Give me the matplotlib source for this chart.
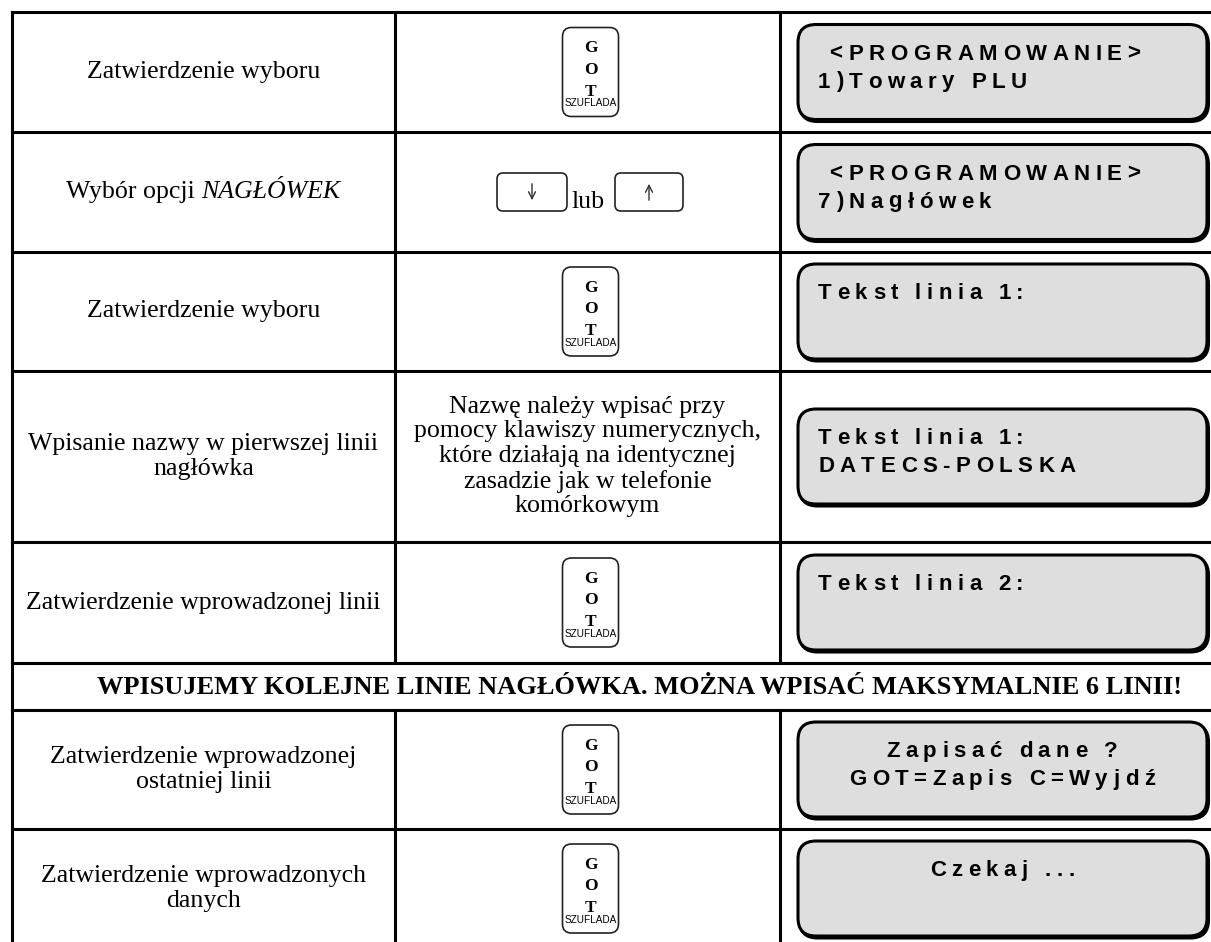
import matplotlib.pyplot as plt
from matplotlib.patches import FancyBboxPatch
from matplotlib.font_manager import FontProperties

# table content
left_texts = [
    "Zatwierdzenie wyboru",
    None,  # mixed style, drawn separately
    "Zatwierdzenie wyboru",
    "Wpisanie nazwy w pierwszej linii\nnagłówka",
    "Zatwierdzenie wprowadzonej linii",
    "Zatwierdzenie wprowadzonej\nostatniej linii",
    "Zatwierdzenie wprowadzonych\ndanych",
]
row2_plain = "Wybór opcji "
row2_italic = "NAGŁÓWEK"
key_kinds = ["got", "arrows", "got", "text", "got", "got", "got"]
middle_text = ("Nazwę należy wpisać przy\npomocy klawiszy numerycznych,\n"
               "które działają na identycznej\nzasadzie jak w telefonie\nkomórkowym")
lcd_lines = [
    [" <PROGRAMOWANIE>", "1)Towary PLU"],
    [" <PROGRAMOWANIE>", "7)Nagłówek"],
    ["Tekst linia 1:"],
    ["Tekst linia 1:", "DATECS-POLSKA"],
    ["Tekst linia 2:"],
    ["Zapisać dane ?", "GOT=Zapis C=Wyjdź"],
    ["Czekaj ..."],
]
lcd_align = ["left", "left", "left", "left", "left", "center", "center"]
banner = "WPISUJEMY KOLEJNE LINIE NAGŁÓWKA. MOŻNA WPISAĆ MAKSYMALNIE 6 LINII!"
got_letters = ["G", "O", "T"]
got_sub = "SZUFLADA"

# layout (pixels)
row_edges = [12, 132, 252, 371, 542, 663, 710, 829, 948]
banner_row = 5
col_edges = [12, 395, 780, 1240]

fig = plt.figure(figsize=(12.11, 9.42), dpi=100)
ax = fig.add_axes([0, 0, 1, 1])
ax.set_xlim(0, 1211)
ax.set_ylim(942, 0)
ax.axis('off')

serif = FontProperties(family="Liberation Serif", size=18.6)
serif_it = FontProperties(family="Liberation Serif", style="italic", size=18.6)
serif_b = FontProperties(family="Liberation Serif", weight="bold", size=19)
lcd_font = FontProperties(family="Liberation Sans", weight="bold", size=16)
key_font = FontProperties(family="Liberation Serif", weight="bold", size=12.5)
sub_font = FontProperties(family="Liberation Sans", size=7.2)

r = fig.canvas.get_renderer()
LW = 2.2

def width(s, prop):
    return r.get_text_width_height_descent(s, prop, ismath=False)[0]

def spaced(x, y, s, prop, gap, ha='left'):
    base = width("HH", prop)
    advs = [width("H" + c + "H", prop) - base for c in s]
    total = sum(advs) + gap * (len(s) - 1)
    if ha == 'center':
        x -= total / 2
    for c, a in zip(s, advs):
        ax.text(x, y, c, fontproperties=prop, ha='left', va='baseline')
        x += a + gap

# grid lines
for y in row_edges:
    ax.plot([col_edges[0], col_edges[-1]], [y, y], color='black', lw=LW, solid_capstyle='projecting')
ax.plot([col_edges[0]] * 2, [row_edges[0], row_edges[-1]], color='black', lw=LW)
for i in range(len(row_edges) - 1):
    if i == banner_row:
        continue
    for xc in col_edges[1:3]:
        ax.plot([xc, xc], [row_edges[i], row_edges[i + 1]], color='black', lw=LW)

# banner row
ax.text((col_edges[0] + 1211) / 2 + 28, (row_edges[banner_row] + row_edges[banner_row + 1]) / 2 + 1,
        banner, fontproperties=serif_b, ha='center', va='center')

step_rows = [i for i in range(len(row_edges) - 1) if i != banner_row]
c1 = (col_edges[0] + col_edges[1]) / 2
c2 = (col_edges[1] + col_edges[2]) / 2 + 3

for k, i in enumerate(step_rows):
    top, bot = row_edges[i], row_edges[i + 1]
    mid = (top + bot) / 2

    # left column
    if left_texts[k] is None:
        w1 = width(row2_plain.rstrip(), serif) + width("a a", serif) - width("aa", serif)
        w2 = width(row2_italic, serif_it)
        x0 = c1 - (w1 + w2) / 2
        ax.text(x0, mid, row2_plain, fontproperties=serif, ha='left', va='center')
        ax.text(x0 + w1, mid, row2_italic, fontproperties=serif_it, ha='left', va='center')
    else:
        ax.text(c1, mid, left_texts[k], fontproperties=serif, ha='center', va='center',
                linespacing=1.15)

    # middle column
    kind = key_kinds[k]
    if kind == "got":
        kw, kh = 56, 89
        kt = mid - kh / 2
        ax.add_patch(FancyBboxPatch((c2 - kw / 2, kt), kw, kh,
                                    boxstyle="round,pad=0,rounding_size=9",
                                    fc='white', ec='#222222', lw=1.2))
        for letter, dy in zip(got_letters, [25, 46, 68]):
            ax.text(c2, kt + dy, letter, fontproperties=key_font, ha='center', va='baseline')
        ax.text(c2, kt + 79, got_sub, fontproperties=sub_font, ha='center', va='baseline')
    elif kind == "arrows":
        kh = 38
        for (xl, xr), direction in zip([(497, 567), (615, 683)], [1, -1]):
            ax.add_patch(FancyBboxPatch((xl, mid - kh / 2), xr - xl, kh,
                                        boxstyle="round,pad=0,rounding_size=6",
                                        fc='white', ec='#222222', lw=1.2))
            xm = (xl + xr) / 2
            ax.annotate('', xy=(xm, mid + direction * 11), xytext=(xm, mid - direction * 11),
                        arrowprops=dict(arrowstyle='->,head_length=0.5,head_width=0.25',
                                        lw=1.0, color='#333333'))
        ax.text(572, mid + 16, "lub", fontproperties=serif, ha='left', va='baseline')
    else:
        ax.text(c2 - 3, mid, middle_text, fontproperties=serif, ha='center', va='center',
                linespacing=1.15)

    # LCD display
    bh = 95
    bt = mid - bh / 2
    bx0, bx1 = 798, 1207
    ax.add_patch(FancyBboxPatch((bx0 + 1.5, bt + 2), bx1 - bx0, bh,
                                boxstyle="round,pad=0,rounding_size=18",
                                fc='black', ec='black', lw=2.2))
    ax.add_patch(FancyBboxPatch((bx0, bt), bx1 - bx0, bh,
                                boxstyle="round,pad=0,rounding_size=18",
                                fc='#dedede', ec='black', lw=2.2))
    for j, line in enumerate(lcd_lines[k]):
        yb = bt + 35 + 28 * j
        if lcd_align[k] == "left":
            spaced(818, yb, line, lcd_font, 5.5, ha='left')
        else:
            spaced(1002, yb, line, lcd_font, 5.5, ha='center')

fig.savefig('out.png', dpi=100)
